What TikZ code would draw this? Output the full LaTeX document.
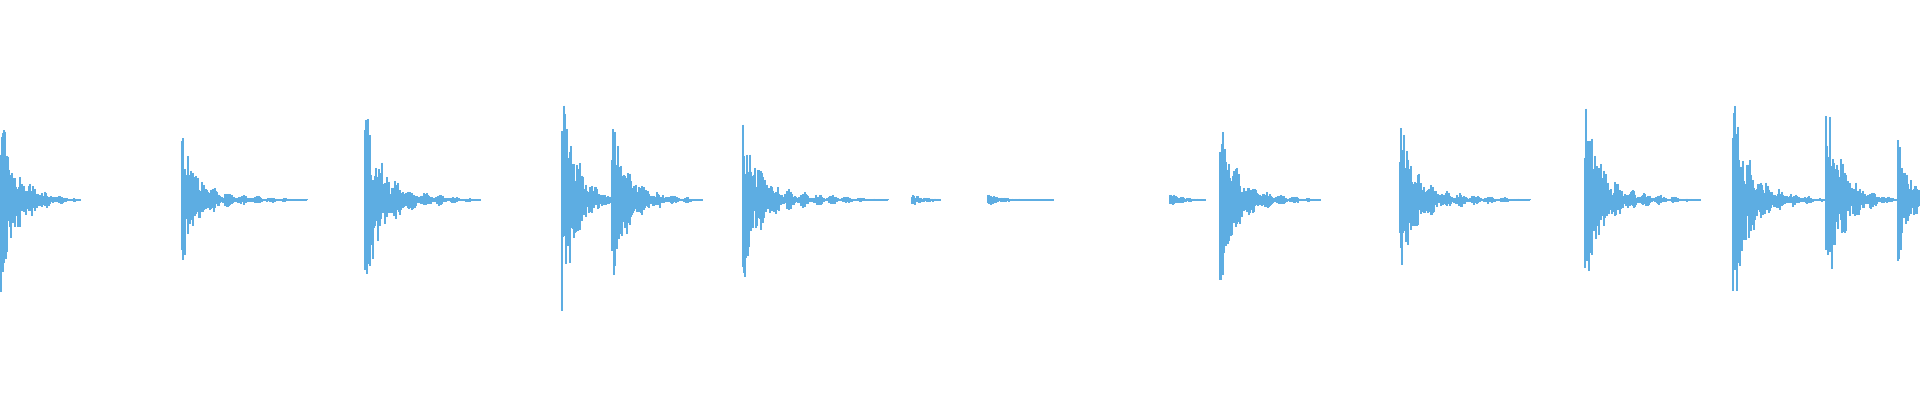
\documentclass[tikz,border=0pt]{standalone}
\usetikzlibrary{positioning}
\definecolor{xwave}{HTML}{5DADE2}
\tikzset{
  wave/.style = {draw=xwave, line width=0.6pt},
}
% burst: start, peak amplitude, length (px)
\newcommand{\burst}[3]{%
  \foreach \i in {0,...,#3}{%
    \pgfmathsetmacro{\env}{#2*(0.9*exp(-\i/13)+0.14*(1-\i/#3)*(0.6+0.4*sin(\i*25)))}
    \pgfmathsetmacro{\up}{\env*(0.3+0.75*random())+0.5}
    \pgfmathsetmacro{\dn}{\env*(0.3+0.75*random())+0.5}
    \draw[wave] (#1+\i,200+\up) -- (#1+\i,200-\dn);
  }%
}
\begin{document}
\begin{tikzpicture}[x=0.01cm, y=0.01cm]
  \useasboundingbox (0,0) rectangle (1920,400);
  \pgfmathsetseed{42}
  \burst{0}{95}{80}
  \burst{182}{62}{125}
  \burst{365}{103}{115}
  \burst{562}{112}{50}
  \burst{612}{88}{90}
  \burst{743}{82}{145}
  \burst{912}{5}{28}
  \burst{988}{5}{65}
  \burst{1170}{6}{35}
  \burst{1220}{85}{100}
  \burst{1400}{78}{130}
  \burst{1585}{96}{115}
  \burst{1733}{112}{95}
  \burst{1826}{107}{75}
  \burst{1898}{60}{22}
\end{tikzpicture}
\end{document}
